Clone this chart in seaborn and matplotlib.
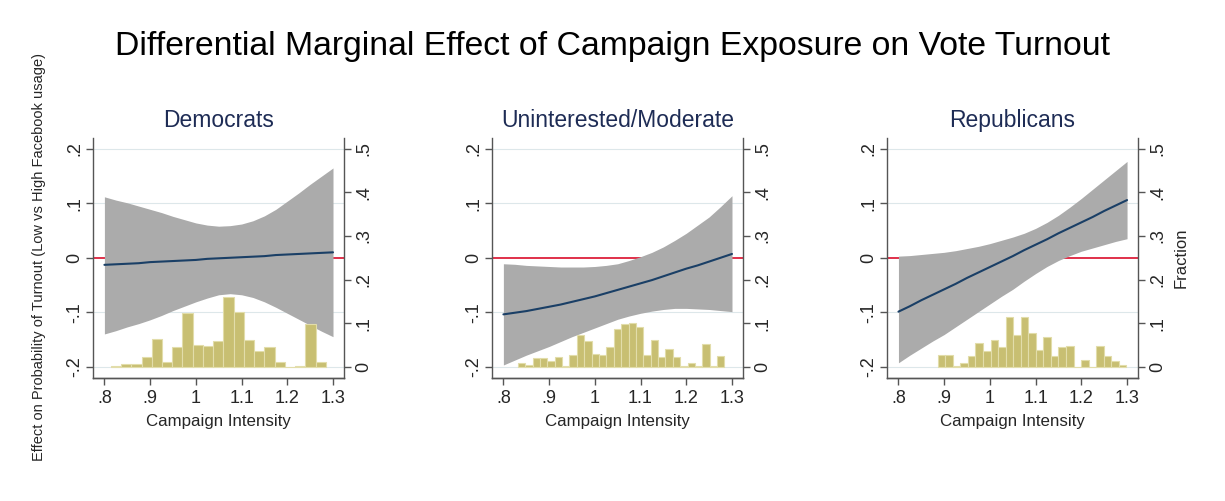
import numpy as np
import pandas as pd
import matplotlib
matplotlib.use("Agg")
import matplotlib.pyplot as plt
import seaborn as sns

sns.set_style("white")
plt.rcParams["font.family"] = ["Liberation Sans", "DejaVu Sans"]

# campaign intensity grid the margins were evaluated at
intensity = [0.800, 0.825, 0.850, 0.875, 0.900, 0.925, 0.950, 0.975, 1.000, 1.025, 1.050,
             1.075, 1.100, 1.125, 1.150, 1.175, 1.200, 1.225, 1.250, 1.275, 1.300]

# Democrats
dem_effect = [-0.013, -0.012, -0.011, -0.010, -0.008, -0.007, -0.006, -0.005, -0.004, -0.002, -0.001,
              0.000, 0.001, 0.002, 0.003, 0.005, 0.006, 0.007, 0.008, 0.009, 0.010]
dem_upper = [0.112, 0.106, 0.101, 0.095, 0.089, 0.083, 0.076, 0.070, 0.064, 0.060, 0.058,
             0.059, 0.062, 0.068, 0.077, 0.089, 0.104, 0.119, 0.135, 0.150, 0.165]
dem_lower = [-0.140, -0.134, -0.127, -0.121, -0.114, -0.106, -0.097, -0.089, -0.081, -0.074, -0.068,
             -0.066, -0.068, -0.073, -0.081, -0.091, -0.102, -0.113, -0.124, -0.135, -0.145]

# Uninterested / Moderate
mod_effect = [-0.104, -0.101, -0.098, -0.094, -0.090, -0.086, -0.081, -0.076, -0.071, -0.065, -0.059,
              -0.053, -0.047, -0.041, -0.034, -0.027, -0.020, -0.014, -0.007, 0.000, 0.007]
mod_upper = [-0.011, -0.012, -0.014, -0.015, -0.016, -0.017, -0.017, -0.017, -0.016, -0.014, -0.011,
             -0.005, 0.002, 0.010, 0.020, 0.032, 0.045, 0.060, 0.075, 0.094, 0.114]
mod_lower = [-0.197, -0.188, -0.179, -0.171, -0.163, -0.154, -0.145, -0.137, -0.129, -0.121, -0.113,
             -0.107, -0.102, -0.098, -0.095, -0.093, -0.093, -0.094, -0.095, -0.097, -0.099]

# Republicans
rep_effect = [-0.099, -0.089, -0.078, -0.068, -0.058, -0.048, -0.037, -0.027, -0.017, -0.007, 0.003,
              0.014, 0.024, 0.034, 0.045, 0.055, 0.065, 0.075, 0.086, 0.096, 0.106]
rep_upper = [0.003, 0.004, 0.006, 0.008, 0.010, 0.013, 0.017, 0.021, 0.026, 0.032, 0.038,
             0.045, 0.054, 0.065, 0.078, 0.093, 0.109, 0.126, 0.143, 0.160, 0.177]
rep_lower = [-0.193, -0.179, -0.166, -0.153, -0.141, -0.127, -0.113, -0.099, -0.085, -0.071, -0.058,
             -0.043, -0.029, -0.016, -0.005, 0.004, 0.012, 0.018, 0.024, 0.030, 0.035]

# histograms of campaign intensity (fraction per bin)
dem_bin_start, dem_bin_width = 0.814, 0.0224
dem_fraction = [0.002, 0.005, 0.005, 0.021, 0.064, 0.010, 0.044, 0.124, 0.050, 0.048, 0.059,
                0.159, 0.126, 0.060, 0.037, 0.046, 0.010, 0.0, 0.002, 0.098, 0.011]

mod_bin_start, mod_bin_width = 0.8316, 0.01614
mod_fraction = [0.008, 0.004, 0.019, 0.019, 0.013, 0.022, 0.002, 0.027, 0.073, 0.058, 0.029,
                0.027, 0.046, 0.087, 0.098, 0.100, 0.090, 0.027, 0.060, 0.022, 0.040, 0.021,
                0.002, 0.008, 0.001, 0.052, 0.002, 0.025]

rep_bin_start, rep_bin_width = 0.886, 0.0165
rep_fraction = [0.027, 0.027, 0.002, 0.009, 0.025, 0.055, 0.035, 0.062, 0.045, 0.113, 0.073,
                0.113, 0.077, 0.039, 0.068, 0.024, 0.045, 0.048, 0.0, 0.016, 0.0, 0.048,
                0.025, 0.013, 0.003]

x_ticks = [0.8, 0.9, 1.0, 1.1, 1.2, 1.3]
x_labels = [".8", ".9", "1", "1.1", "1.2", "1.3"]
y_ticks = [-0.2, -0.1, 0, 0.1, 0.2]
y_labels = ["-.2", "-.1", "0", ".1", ".2"]
frac_ticks = [0, 0.1, 0.2, 0.3, 0.4, 0.5]
frac_labels = ["0", ".1", ".2", ".3", ".4", ".5"]

NAVY = "#1a3f66"
RED = "#e0304a"
BAND = "#ababab"
KHAKI = "#c8bf72"
GRID = "#dde7ea"
SPINE = "#555555"

fig = plt.figure(figsize=(12.25, 5.01), dpi=100)


def draw_panel(left, title, effect, upper, lower, bin_start, bin_width, fraction):
    ax = fig.add_axes([left, 0.2465, 0.2049, 0.478])
    ax.set_xlim(0.775, 1.324)
    ax.set_ylim(-0.22, 0.22)
    for g in [-0.2, -0.1, 0.1, 0.2]:
        ax.axhline(g, color=GRID, lw=0.8, zorder=0)
    ax.axhline(0, color=RED, lw=1.4, zorder=1)
    ax.fill_between(intensity, lower, upper, color=BAND, lw=0, zorder=2)

    # histogram sits on its own (right) scale
    ax2 = ax.twinx()
    edges = [bin_start + bin_width * i for i in range(len(fraction) + 1)]
    hist_df = pd.DataFrame({
        "intensity": [e + bin_width / 2 for e in edges[:-1]],
        "fraction": fraction,
    })
    sns.histplot(data=hist_df, x="intensity", weights="fraction", bins=edges, ax=ax2,
                 color=KHAKI, edgecolor="#e2ddaa", linewidth=0.8, alpha=1)
    ax2.plot(intensity, effect, color=NAVY, lw=1.5, transform=ax.transData)
    ax2.set_ylim(-0.025, 0.525)
    ax2.set_xlim(0.775, 1.324)
    ax2.set_ylabel("")
    ax2.set_xlabel("")

    ax.set_xticks(x_ticks)
    ax.set_xticklabels(x_labels)
    ax.set_yticks(y_ticks)
    ax.set_yticklabels(y_labels, rotation=90, va="center")
    ax2.set_yticks(frac_ticks)
    ax2.set_yticklabels(frac_labels, rotation=90, va="center")

    for a in (ax, ax2):
        a.spines["top"].set_visible(False)
        for s in a.spines.values():
            s.set_color(SPINE)
            s.set_linewidth(1.0)
    ax2.spines["left"].set_visible(False)
    ax.spines["right"].set_visible(False)

    ax.tick_params(axis="x", length=5, width=1, color=SPINE, pad=4, labelsize=13, bottom=True)
    ax.tick_params(axis="y", length=5, width=1, color=SPINE, pad=2, labelsize=13, left=True)
    ax2.tick_params(axis="y", length=5, width=1, color=SPINE, pad=3, labelsize=13, right=True)

    ax.set_xlabel("Campaign Intensity", fontsize=12.2, labelpad=5)
    fig.text(left + 0.2049 / 2, 1 - 121 / 501, title, ha="center", va="center",
             fontsize=16.5, color="#1e2c55")
    return ax


draw_panel(0.0759, "Democrats", dem_effect, dem_upper, dem_lower,
           dem_bin_start, dem_bin_width, dem_fraction)
draw_panel(0.4016, "Uninterested/Moderate", mod_effect, mod_upper, mod_lower,
           mod_bin_start, mod_bin_width, mod_fraction)
draw_panel(0.7241, "Republicans", rep_effect, rep_upper, rep_lower,
           rep_bin_start, rep_bin_width, rep_fraction)

fig.text(0.5, 1 - 47 / 501, "Differential Marginal Effect of Campaign Exposure on Vote Turnout",
         ha="center", va="center", fontsize=24.3, color="black")
fig.text(0.032, 0.487, "Effect on Probability of Turnout (Low vs High Facebook usage)",
         rotation=90, ha="center", va="center", fontsize=10.5)
fig.text(0.964, 1 - 258 / 501, "Fraction", rotation=90, ha="center", va="center", fontsize=12)

fig.savefig("out.png", dpi=100)
